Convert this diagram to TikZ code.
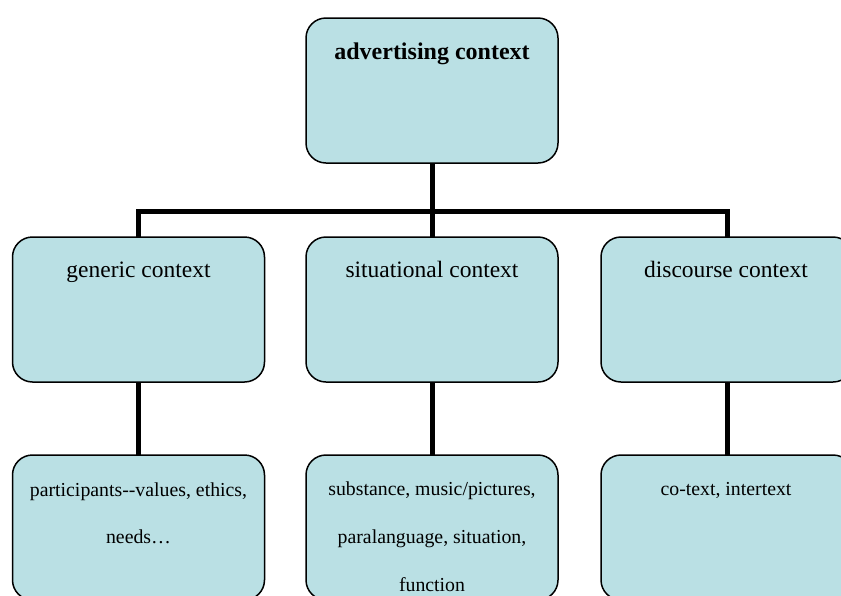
\documentclass[tikz,border=0pt]{standalone}
\usepackage{fontspec}
\setmainfont{Liberation Serif}
\definecolor{boxfill}{RGB}{186,224,228}
\begin{document}
\begin{tikzpicture}[x=1pt,y=-1pt,
  box/.style={draw=black, line width=1.5pt, fill=boxfill, rounded corners=20pt,
    minimum width=252pt, minimum height=145pt, inner sep=0pt, outer sep=0pt},
  conn/.style={draw=black, line width=5pt},
  toptext/.style={anchor=base, inner sep=0pt, font=\fontsize{24}{28}\selectfont\bfseries},
  midtext/.style={anchor=base, inner sep=0pt, font=\fontsize{23.5}{28}\selectfont},
  lowtext/.style={anchor=base, inner sep=0pt, font=\fontsize{19.8}{24}\selectfont}]
  \useasboundingbox (0,0) rectangle (841,595);
  \clip (0,0) rectangle (841,595);

  % boxes
  \node[box] (top) at (432,90.5) {};
  \node[box] (gen) at (138.5,309.5) {};
  \node[box] (sit) at (432,309.5) {};
  \node[box] (dis) at (727,309.5) {};
  \node[box] (genlow) at (138.5,527.5) {};
  \node[box] (sitlow) at (432,527.5) {};
  \node[box] (dislow) at (727,527.5) {};

  % connectors
  \coordinate (bus) at (432,211);
  \draw[conn] (top.south) -- (bus);
  \draw[conn] (gen.north) |- (bus) -| (dis.north);
  \draw[conn] (bus) -- (sit.north);
  \draw[conn] (gen.south) -- (genlow.north);
  \draw[conn] (sit.south) -- (sitlow.north);
  \draw[conn] (dis.south) -- (dislow.north);

  % labels
  \node[toptext] (ttop) at (432,59) {advertising context};
  \node[midtext] (tgen) at (138.5,277) {generic context};
  \node[midtext] (tsit) at (432,277) {situational context};
  \node[midtext] (tdis) at (726,277) {discourse context};
  \node[lowtext] (tgenA) at (138.5,496) {participants-{}-values, ethics,};
  \node[lowtext] (tgenB) at (138.5,543) {needs…};
  \node[lowtext] (tsitA) at (432,495) {substance, music/pictures,};
  \node[lowtext] (tsitB) at (432,543) {paralanguage, situation,};
  \node[lowtext] (tsitC) at (432,591) {function};
  \node[lowtext] (tdisA) at (726,495) {co-text, intertext};
\end{tikzpicture}
\end{document}
